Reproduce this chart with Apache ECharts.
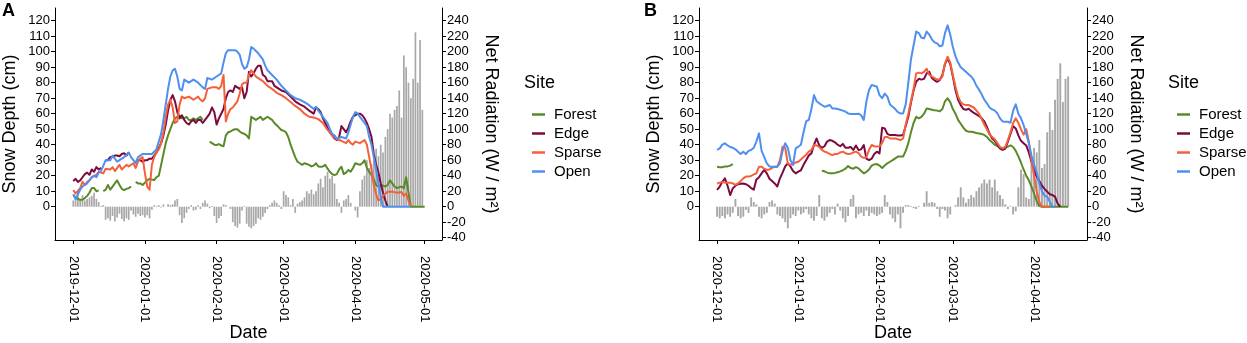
<!DOCTYPE html>
<html><head><meta charset="utf-8">
<script src="https://cdn.jsdelivr.net/npm/echarts@6/dist/echarts.min.js"></script>
<style>html,body{margin:0;padding:0;background:#fff}#c{width:1247px;height:343px}</style>
</head><body><div id="c"></div>
<script>
// ---------- DATA ----------
const siteNames = ['Forest', 'Edge', 'Sparse', 'Open'];
const siteColors = ['#5a8a28', '#7b0b3f', '#f4603a', '#4e8ff0'];
const depthTicks = [0,10,20,30,40,50,60,70,80,90,100,110,120];
const radTicks = [-40,-20,0,20,40,60,80,100,120,140,160,180,200,220,240];
const dateTicksA = ['2019-12-01','2020-01-01','2020-02-01','2020-03-01','2020-04-01','2020-05-01'];
const dateTicksB = ['2020-12-01','2021-01-01','2021-02-01','2021-03-01','2021-04-01'];
const startA = '2019-12-01';   // day 0 of panel A
const startB = '2020-12-01';   // day 0 of panel B

// Panel A snow depth (cm): [day since start, value]
const A_forest = [[0,7.5],[1,6],[2,5],[3,4.5],[4,4.5],[5,5.5],[6,7],[7,9],[8,12],[9,12],[10,10],[11,10.5],[12,null],[13,10],[14,11],[15,14],[16,11],[17,13],[18,15],[19,17],[20,14],[21,11.5],[22,10.7],[23,11.5],[24,12],[25,13],[26,null],[27,16],[28,15],[29,15],[30,14],[31,15.5],[32,17],[33,18],[34,17.5],[35,17.2],[36,19],[37,20],[38,27],[39,34],[40,41],[41,46],[42,50],[43,54],[44,57],[45,58],[46,59],[47,57],[48,57],[49,58],[50,56],[51,56],[52,57],[53,56],[54,57],[55,58],[56,56],[57,null],[59,42],[60,41],[61,40],[62,39.8],[63,40.4],[64,39.5],[65,39],[66,46],[67,48],[68,48.5],[69,49.5],[70,50],[71,50],[72,48.5],[73,47.5],[74,47],[75,46],[76,44],[77,58],[78,57],[79,56],[80,57],[81,58],[82,56],[83,57],[84,58],[85,57],[86,56],[87,54],[88,52.5],[89,51],[90,49.5],[91,49],[92,48],[93,45],[94,40],[95,36],[96,32],[97,29],[98,28],[99,27],[100,28],[101,27.5],[102,27],[103,26],[104,26.5],[105,28],[106,26],[107,25.8],[108,26],[109,27],[110,24.5],[111,22.5],[112,21],[113,20.4],[114,21],[115,24],[116,25.8],[117,21],[118,22],[119,23.7],[120,22.6],[121,25],[122,28],[123,27.5],[124,27],[125,28],[126,30],[127,25],[128,22.5],[129,20.5],[130,17.5],[131,14],[132,13],[133,14],[134,13.5],[135,13],[136,14],[137,17],[138,15],[139,13],[140,12],[141,12.5],[142,13],[143,12],[144,19],[145,9],[146,0],[152,0]];
const A_edge = [[0,16.5],[1,18],[2,16],[3,17],[4,19],[5,21],[6,22],[7,20.5],[8,24],[9,22.5],[10,25.5],[11,24],[12,25],[13,null],[14,30],[15,30],[16,32],[17,32],[18,33],[19,33],[20,32.5],[21,34],[22,34.5],[23,33],[24,35],[25,null],[27,29],[28,30],[29,30],[30,29],[31,30],[32,30],[33,31],[34,31],[35,33],[36,35],[37,38],[38,41],[39,46],[40,53],[41,62],[42,69],[43,72],[44,68],[45,61],[46,57],[47,59],[48,56],[49,54],[50,53],[51,55],[52,56],[53,54],[54,56],[55,56],[56,54],[57,56],[58,58],[59,60],[60,64],[61,61],[62,53],[63,57],[64,60],[65,63],[66,70],[67,74],[68,75],[69,74],[70,78],[71,77],[72,76],[73,77],[74,70],[75,74],[76,87],[77,84],[78,86],[79,89],[80,91],[81,91],[82,85],[83,84],[84,81],[85,81],[86,81],[87,78],[88,77],[90,75],[92,74],[94,71],[96,68],[98,66],[100,64.5],[102,62],[104,60],[105,64],[106,63],[107,61],[108,57],[109,54],[110,51],[111,48],[112,46],[113,44],[114,43],[115,45],[116,52],[117,50],[118,48],[119,51],[120,55],[121,58],[122,59],[123,60],[124,60],[125,59],[126,57],[127,54],[128,50],[129,45],[130,34],[131,27],[132,22],[133,15],[134,9],[135,4],[136,0]];
const A_sparse = [[0,10.7],[1,8.6],[2,10],[3,12],[4,16],[5,14],[6,16],[7,17],[8,19],[10,20.5],[11,22.5],[12,22],[13,21.5],[14,24.5],[16,24],[17,25.5],[18,23],[20,27],[21,24],[23,27],[24,26],[26,28],[27,25],[28,29],[29,31],[30,32],[31,21.5],[32,13],[33,11],[34,27],[35,32],[36,35],[37,37],[38,41],[39,48],[40,58],[41,66],[42,69],[43,64],[44,54],[45,55],[46,66],[47,71],[48,70],[50,71],[51,70],[52,69],[54,71],[55,69],[56,68],[57,70],[58,76],[60,77],[62,77],[63,76],[64,78],[65,85],[66,55],[67,60],[68,63],[69,64],[70,66],[71,68],[72,73],[73,79],[74,80],[75,80],[76,85],[77,88],[78,86],[79,84],[80,83],[82,81],[84,78],[86,76],[88,73.5],[90,72],[92,70],[94,67.5],[96,65],[98,63],[100,60],[102,58],[104,57.5],[106,56.5],[108,54],[110,49.5],[112,46],[114,43.5],[116,42.5],[118,41],[119,43],[120,41],[121,40],[122,42],[124,41],[126,43],[127,40],[128,32],[129,24],[130,14],[131,8],[132,4],[133,5],[134,7],[136,9.7],[138,9.7],[140,9],[142,9.5],[143,7],[144,8.5],[145,4],[146,0]];
const A_open = [[0,8],[1,5],[2,8],[3,11],[4,13],[6,15],[8,19],[9,20],[10,19],[11,22],[12,23],[14,30],[16,30],[17,33],[18,31],[19,29],[20,30],[22,32],[24,35],[25,32],[26,30],[27,28],[28,32],[30,34],[32,34],[34,34],[36,37],[37,42],[38,47],[39,56],[40,66],[41,76],[42,84],[43,88],[44,89],[45,84],[46,76],[47,75],[48,82],[49,81],[50,80],[52,82],[54,80],[56,77],[57,76],[58,83],[60,82],[62,84],[64,86],[65,93],[66,99],[67,101],[68,101],[70,101],[71,100],[72,98],[73,92],[74,89],[75,90],[76,95],[77,103],[78,102],[80,99],[81,97],[82,95],[83,91],[84,88],[86,85],[88,82],[90,78],[92,75],[94,72],[96,70],[98,69],[100,67.5],[102,65.5],[104,63],[105,64.5],[106,62],[107,60],[108,58],[110,54],[111,50],[112,47],[113,46],[114,44],[116,45],[118,44],[119,48],[120,53],[121,58],[122,61],[123,60],[124,58],[126,54],[127,52],[128,45],[129,40],[130,32],[131,24],[132,15],[133,6],[134,0],[146,0]];
// Panel A net radiation (W/m2), one value per day from day 0
const A_rad = [8,12,22,10,15,8,10,12,14,18,10,6,1,2,
 -17,-15,-18,-12,-19,-14,-9,-16,-19,-15,-17,-5,-10,-13,-9,-12,-11,
 -14,-11,-15,-4,2,1,2,-1,3,0,3,2,3,8,10,-11,-21,-15,-8,-3,
 2,-5,-4,2,-3,5,8,4,-2,1,-12,-21,-15,-12,3,2,0,-3,-20,-25,
 -27,-22,-5,1,-22,-26,-28,-25,-22,-15,-17,-13,-8,-3,2,5,8,5,2,-3,
 20,15,12,2,10,-8,4,6,8,12,20,17,22,16,20,30,36,25,40,45,
 36,40,30,10,5,-8,8,10,15,5,0,-5,-14,20,35,40,60,50,55,60,
 75,65,80,70,90,100,120,115,125,130,150,115,195,180,160,140,165,225,160,215,125];

// Panel B snow depth (cm)
const B_forest = [[0,25.8],[1,25.4],[2,25.4],[3,26],[4,26],[5,26.5],[6,27.5],[7,null],[40,23.2],[41,22.8],[42,22],[43,21.5],[44,21.6],[45,21.8],[46,22.2],[47,22.8],[48,23.5],[49,24.5],[50,26.2],[51,25],[52,24.5],[53,25.5],[54,24.7],[55,23],[56,21.5],[57,22.5],[58,24],[59,26.5],[60,27.3],[61,27.5],[62,26.5],[63,25],[64,26.5],[65,28],[66,29],[67,30],[68,31.2],[69,32.3],[70,32.3],[71,32.3],[72,36],[73,41],[74,48],[75,54],[76,58],[77,57],[78,58],[79,60],[80,63.4],[81,63],[82,62.5],[83,62.2],[84,62],[85,61.5],[86,63],[87,68],[88,70],[89,67.5],[90,63],[91,60],[92,56],[93,53.5],[94,51],[95,49],[96,48.4],[97,48.4],[98,48],[99,47.5],[100,47.2],[101,46.9],[102,46.3],[103,45],[104,43],[105,41.5],[106,40],[107,39],[108,38],[109,37.8],[110,38.3],[111,38.7],[112,39.5],[113,38.5],[114,36],[115,32.5],[116,28.5],[117,24],[118,20],[119,17],[120,13],[121,8.5],[122,3.5],[123,0.5],[124,0],[134,0]];
const B_edge = [[0,10.8],[1,13],[2,16],[3,18.3],[4,13.5],[5,7.5],[6,11.8],[7,13.5],[8,14.5],[9,14.8],[10,15],[11,14.5],[12,13.5],[13,12],[14,11],[15,17.5],[16,19],[17,21.5],[18,23.7],[19,21.5],[20,18],[21,16.5],[22,15],[23,13],[24,18.3],[25,22],[26,26],[27,28],[28,26],[29,23],[30,21.5],[31,22.6],[32,23.5],[33,27],[34,30],[35,33],[36,34.4],[37,40],[38,44],[39,39.5],[40,38],[41,39],[42,42],[43,43],[44,42.5],[45,41.5],[46,40],[47,39],[48,40.5],[49,38],[50,38],[51,38.5],[52,36.6],[53,39.5],[54,36.5],[55,37],[56,39.8],[57,31],[58,30],[59,31],[60,34],[61,35.5],[62,34.4],[63,51],[64,50.5],[65,47],[66,46.2],[67,46.2],[68,46.2],[69,46],[70,46],[71,46.2],[72,52],[73,58],[74,67],[75,75],[76,80.6],[77,82.5],[78,82],[79,82.5],[80,86],[81,87],[82,83],[83,81.5],[84,80.6],[85,81.7],[86,85],[87,92],[88,95.7],[89,92],[90,84],[91,75.3],[92,69],[93,65.5],[94,63],[95,62.5],[96,63.2],[97,61.8],[98,60.5],[99,59.5],[100,58.5],[101,57],[102,55],[103,51.5],[104,47],[105,44],[106,42.5],[107,40],[108,37.5],[109,36.6],[110,37.5],[111,42],[112,47],[113,52],[114,50.5],[115,46],[116,42.5],[117,40.9],[118,39.5],[119,35],[120,29],[121,24],[122,19.4],[123,16.5],[124,13.5],[125,11.5],[126,9.7],[127,8],[128,7.5],[129,6.5],[130,2],[131,0]];
const B_sparse = [[0,15],[1,15.5],[2,16],[3,15.5],[4,15.5],[5,15.5],[6,15],[7,14],[8,15],[9,16.5],[10,18.3],[11,19.4],[12,19.4],[13,19.8],[14,20.8],[15,21.5],[16,25.8],[17,25.8],[18,24.5],[19,23.7],[20,24],[21,25],[22,25.8],[23,25.8],[24,30],[25,38.7],[26,38],[27,28],[28,27],[29,27.5],[30,28.5],[31,29],[32,30.5],[33,32],[34,33.5],[35,35.5],[36,36.6],[37,39.8],[38,39.5],[39,38.5],[40,36.6],[41,35.5],[42,35],[43,34],[44,33.3],[45,34],[46,34],[47,35],[48,35.5],[49,34.5],[50,34],[51,34.2],[52,35],[53,35.5],[54,34.5],[55,32.3],[56,31.5],[57,32],[58,36.6],[59,39.8],[60,39],[61,38.8],[62,39],[63,41],[64,45],[65,45],[66,44],[67,44],[68,44],[69,43.5],[70,43],[71,44],[72,53],[73,60],[74,68],[75,76],[76,86],[77,86.5],[78,86],[79,87],[80,89],[81,85],[82,84],[83,83],[84,82],[85,82],[86,84],[87,92.5],[88,96.8],[89,93],[90,85],[91,77.4],[92,71],[93,67.5],[94,66],[95,65.6],[96,65.6],[97,64.8],[98,64],[99,62],[100,60],[101,56.5],[102,53],[103,50],[104,46.5],[105,45],[106,43.5],[107,41],[108,38.5],[109,37.6],[110,38.5],[111,43],[112,48],[113,54],[114,57],[115,54],[116,50],[117,46.5],[118,50],[119,42],[120,30],[121,20],[122,10],[123,3],[124,0],[127,0]];
const B_open = [[0,36.6],[1,37.6],[2,40],[3,40.9],[4,39.5],[5,38.5],[6,38],[7,37],[8,35.5],[9,34],[10,35.5],[11,34],[12,36],[13,36.6],[14,38],[15,42],[16,47.3],[17,36],[18,32],[19,28],[20,26],[21,25.8],[22,25.8],[23,25.8],[24,28],[25,36],[26,40.9],[27,38],[28,30],[29,27],[30,37.6],[31,38.7],[32,40],[33,48],[34,55],[35,56],[36,63],[37,72],[38,68],[39,66.7],[40,65.6],[41,64.5],[42,65],[43,65.6],[44,63.4],[45,63.4],[46,63],[47,62.5],[48,62],[49,61.3],[50,60.2],[51,59.8],[52,59.8],[53,59.8],[54,60],[55,59],[56,56],[57,68],[58,75.3],[59,78.5],[60,78],[61,77.4],[62,72],[63,70],[64,73],[65,71],[66,66],[67,64.5],[68,63],[69,61],[70,60.2],[71,60.2],[72,66],[73,80],[74,95],[75,104],[76,113],[77,112],[78,109],[79,108.6],[80,113],[81,111],[82,108],[83,106],[84,105.4],[85,103.5],[86,104],[87,112],[88,117],[89,111],[90,103],[91,97],[92,93],[93,90],[94,88.5],[95,87],[96,85.5],[97,84],[98,81.7],[99,78],[100,75.5],[101,72.5],[102,69],[103,66.7],[104,64],[105,62.8],[106,62],[107,60.2],[108,57],[109,55],[110,54.8],[111,54.8],[112,54.2],[113,62],[114,66],[115,60],[116,57],[117,52.7],[118,47],[119,41],[120,33],[121,27],[122,22],[123,15],[124,10],[125,7],[126,6.5],[127,3.2],[128,0],[129,0]];
// Panel B net radiation (W/m2), one value per day from day 0
const B_rad = [-13,-15,-12,-15,-10,-13,-8,10,-12,-15,-13,-4,-8,12,6,3,-13,-15,-10,-8,
 6,8,4,-10,-12,-15,-20,-28,-15,-10,-12,-5,-10,-8,-3,-10,-15,-18,-12,15,
 -15,-18,-13,-8,-3,-10,4,-5,-15,-20,-12,10,15,-15,-10,-8,-12,-5,-12,-8,
 -10,-12,-10,-8,15,6,-10,-15,-20,-10,-28,-8,2,2,1,-2,-3,1,0,5,
 20,5,6,5,-3,-13,-3,-5,-15,-10,0,2,12,25,12,5,10,15,12,20,
 25,30,35,30,35,25,35,20,15,10,3,-3,1,-10,-6,25,48,42,12,10,
 62,76,70,86,50,55,96,122,99,138,165,185,135,165,168];

// ---------- BUILD ----------
const DAY = 86400000;
const FONT = "'Liberation Sans', Arial, Helvetica, sans-serif";
function parseDate(s){ const p = s.split('-'); return new Date(+p[0], +p[1]-1, +p[2]); }
function dayTime(start, d){ const b = parseDate(start); return new Date(b.getFullYear(), b.getMonth(), b.getDate() + d).getTime(); }
function pad(n){ return (n < 10 ? '0' : '') + n; }
function fmt(v){ const d = new Date(v); return d.getFullYear() + '-' + pad(d.getMonth()+1) + '-' + pad(d.getDate()); }
function pairs(start, arr){ return arr.map(p => [dayTime(start, p[0]), p[1]]); }
function daily(start, arr){ return arr.map((v, i) => [dayTime(start, i), v]); }

function xAxis(gi, start, ticks, dMin, dMax){
  const base = parseDate(start).getTime();
  const tv = ticks.map(s => parseDate(s).getTime());
  return {
    type: 'value', gridIndex: gi, min: base + dMin*DAY, max: base + dMax*DAY, scale: true,
    name: 'Date', nameLocation: 'middle', nameGap: 84, nameMoveOverlap: false,
    nameTextStyle: {fontSize: 18, color: '#000', fontFamily: FONT},
    axisLine: {show: true, onZero: false, lineStyle: {color: '#000', width: 1}},
    axisTick: {show: true, customValues: tv, length: 4, lineStyle: {color: '#000'}},
    axisLabel: {customValues: tv, rotate: -90, fontSize: 13, color: '#000', fontFamily: FONT, margin: 16, formatter: fmt},
    splitLine: {show: false}
  };
}
function yLeft(gi){
  return {
    type: 'value', gridIndex: gi, position: 'left', min: -21.5, max: 128.2,
    name: 'Snow Depth (cm)', nameLocation: 'middle', nameGap: 36, nameRotate: 90, nameMoveOverlap: false,
    nameTextStyle: {fontSize: 18, color: '#000', fontFamily: FONT},
    axisLine: {show: true, onZero: false, lineStyle: {color: '#000', width: 1}},
    axisTick: {show: true, customValues: depthTicks, length: 4, lineStyle: {color: '#000'}},
    axisLabel: {customValues: depthTicks, fontSize: 13, color: '#000', fontFamily: FONT, margin: 5},
    splitLine: {show: false}
  };
}
function yRight(gi){
  return {
    type: 'value', gridIndex: gi, position: 'right', min: -43, max: 256.4,
    name: 'Net Radiation (W / m²)', nameLocation: 'middle', nameGap: 40, nameRotate: -90, nameMoveOverlap: false,
    nameTextStyle: {fontSize: 18, color: '#000', fontFamily: FONT},
    axisLine: {show: true, onZero: false, lineStyle: {color: '#000', width: 1}},
    axisTick: {show: true, customValues: radTicks, length: 4, lineStyle: {color: '#000'}},
    axisLabel: {customValues: radTicks, fontSize: 13, color: '#000', fontFamily: FONT, margin: 5},
    splitLine: {show: false}
  };
}
function lineSeries(name, idx, data, start, xi, yi){
  return {type: 'line', name, xAxisIndex: xi, yAxisIndex: yi, data: pairs(start, data),
    showSymbol: false, symbol: 'none', connectNulls: false, z: 3 + idx,
    lineStyle: {color: siteColors[idx], width: 2, join: 'round'}, itemStyle: {color: siteColors[idx]}};
}
function barSeries(data, start, xi, yi, w){
  return {type: 'bar', name: 'Net Radiation', xAxisIndex: xi, yAxisIndex: yi, data: daily(start, data),
    barWidth: w, itemStyle: {color: '#a8a8a8'}, z: 1, silent: true};
}
function legend(left){
  return {left, top: 102, orient: 'vertical', data: siteNames, icon: 'rect', itemWidth: 13, itemHeight: 2.5,
    itemGap: 4, selectedMode: false,
    textStyle: {fontSize: 15, color: '#000', fontFamily: FONT, padding: [0,0,0,4]}};
}

const A = [A_forest, A_edge, A_sparse, A_open];
const B = [B_forest, B_edge, B_sparse, B_open];
const series = [barSeries(A_rad, startA, 0, 1, 1.7), barSeries(B_rad, startB, 1, 3, 1.9)];
siteNames.forEach((n, i) => {
  series.push(lineSeries(n, i, A[i], startA, 0, 0));
  series.push(lineSeries(n, i, B[i], startB, 1, 2));
});

const chart = echarts.init(document.getElementById('c'), null, {renderer: 'canvas'});
chart.setOption({
  animation: false,
  backgroundColor: '#fff',
  textStyle: {fontFamily: FONT},
  title: [
    {text: 'A', left: 2, top: 2, padding: 0, textStyle: {fontSize: 18, fontWeight: 'bold', color: '#000', fontFamily: FONT}},
    {text: 'B', left: 644, top: 2, padding: 0, textStyle: {fontSize: 18, fontWeight: 'bold', color: '#000', fontFamily: FONT}},
    {text: 'Site', left: 524, top: 74, padding: 0, textStyle: {fontSize: 18, fontWeight: 'normal', color: '#000', fontFamily: FONT}},
    {text: 'Site', left: 1168, top: 74, padding: 0, textStyle: {fontSize: 18, fontWeight: 'normal', color: '#000', fontFamily: FONT}}
  ],
  legend: [legend(527), legend(1172)],
  grid: [
    {left: 55, top: 8, width: 387, height: 232, containLabel: false, outerBoundsMode: 'none'},
    {left: 699, top: 8, width: 388, height: 232, containLabel: false, outerBoundsMode: 'none'}
  ],
  xAxis: [xAxis(0, startA, dateTicksA, -7.9, 159.5), xAxis(1, startB, dateTicksB, -6.9, 141.2)],
  yAxis: [yLeft(0), yRight(0), yLeft(1), yRight(1)],
  series
});
</script></body></html>
